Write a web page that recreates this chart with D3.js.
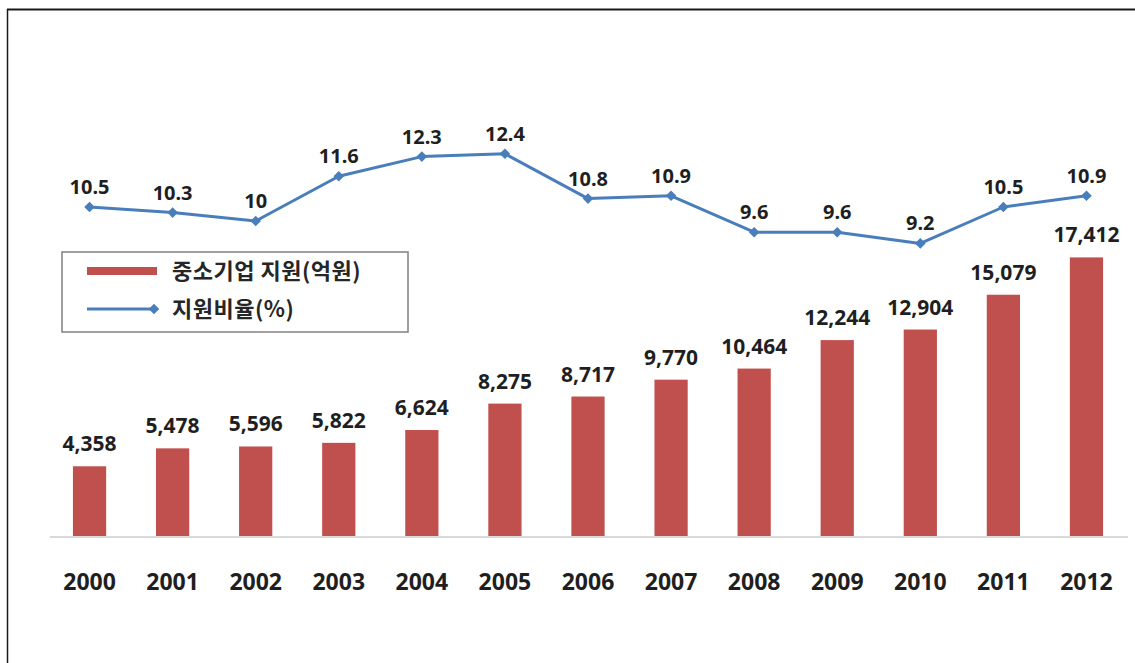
<!DOCTYPE html>
<html>
<head>
<meta charset="utf-8">
<script src="https://cdn.jsdelivr.net/npm/d3@7"></script>
<style>
  body { margin: 0; background: #fff; }
  svg { display: block; }
  .num { font-family: "Noto Sans", "Open Sans", sans-serif; font-weight: 700; fill: #1f1f1f; }
  .leg { font-family: "Noto Sans CJK KR", sans-serif; font-weight: 700; fill: #262626; }
</style>
</head>
<body>
<div id="chart"></div>
<script>
// Years on the x axis
const years = ["2000", "2001", "2002", "2003", "2004", "2005", "2006",
  "2007", "2008", "2009", "2010", "2011", "2012"];
// SME support (100 million won) - bars
const support = [4358, 5478, 5596, 5822, 6624, 8275, 8717, 9770, 10464,
  12244, 12904, 15079, 17412];
// Support ratio (%) - line
const ratio = [10.5, 10.3, 10, 11.6, 12.3, 12.4, 10.8, 10.9, 9.6, 9.6, 9.2, 10.5, 10.9];
const legendLabels = ["중소기업 지원(억원)", "지원비율(%)"];

const width = 1135, height = 663;
const barColor = "#c0504d";
const lineColor = "#4a7ebb";

const svg = d3.select("#chart").append("svg")
  .attr("width", width)
  .attr("height", height);

// Frame (top and left edges only, as in the picture)
svg.append("line").attr("x1", 7).attr("x2", width).attr("y1", 9.5).attr("y2", 9.5)
  .attr("stroke", "#1a1a1a").attr("stroke-width", 2);
svg.append("line").attr("x1", 7.5).attr("x2", 7.5).attr("y1", 9).attr("y2", height)
  .attr("stroke", "#1a1a1a").attr("stroke-width", 1.5);

// Scales
const x = d3.scaleBand().domain(years).range([48, 1128])
  .paddingInner(0.6).paddingOuter(0.3);
const y = d3.scaleLinear().domain([0, 20000]).range([536, 216]);
const yr = d3.scaleLinear().domain([9, 13]).range([249, 137]);

// Bars
svg.selectAll(".bar")
  .data(support)
  .enter()
  .append("rect")
  .attr("class", "bar")
  .attr("x", (d, i) => x(years[i]))
  .attr("width", x.bandwidth())
  .attr("y", (d) => y(d))
  .attr("height", (d) => y(0) - y(d))
  .attr("fill", barColor);

// Baseline
svg.append("line")
  .attr("x1", 50).attr("x2", 1128)
  .attr("y1", y(0) + 1).attr("y2", y(0) + 1)
  .attr("stroke", "#d9d9d9").attr("stroke-width", 2);

// Year labels
const xAxis = d3.axisBottom(x).tickSize(0).tickPadding(0);
const gx = svg.append("g")
  .attr("transform", `translate(0,${y(0)})`)
  .call(xAxis);
gx.select(".domain").remove();
gx.selectAll("text")
  .attr("class", "num")
  .attr("y", 46)
  .attr("dy", "0.35em")
  .style("font-size", "23px");

// Bar value labels
svg.selectAll(".barLabel")
  .data(support)
  .enter()
  .append("text")
  .attr("class", "num")
  .attr("x", (d, i) => x(years[i]) + x.bandwidth() / 2)
  .attr("y", (d) => y(d) - 15)
  .attr("text-anchor", "middle")
  .style("font-size", "21px")
  .text((d) => d3.format(",")(d));

// Ratio line
const cx = (i) => x(years[i]) + x.bandwidth() / 2;
const line = d3.line()
  .x((d, i) => cx(i))
  .y((d) => yr(d));

svg.append("path")
  .datum(ratio)
  .attr("fill", "none")
  .attr("stroke", lineColor)
  .attr("stroke-width", 3)
  .attr("stroke-linejoin", "round")
  .attr("d", line);

// square turned 45deg gives the even diamond marker
const diamond = d3.symbol().type(d3.symbolSquare).size(56);
svg.selectAll(".marker")
  .data(ratio)
  .enter()
  .append("path")
  .attr("class", "marker")
  .attr("d", diamond)
  .attr("transform", (d, i) => `translate(${cx(i)},${yr(d)}) rotate(45)`)
  .attr("fill", lineColor);

svg.selectAll(".ratioLabel")
  .data(ratio)
  .enter()
  .append("text")
  .attr("class", "num")
  .attr("x", (d, i) => cx(i))
  .attr("y", (d) => yr(d) - 13)
  .attr("text-anchor", "middle")
  .style("font-size", "20px")
  .text((d) => d);

// Legend
const legend = svg.append("g").attr("transform", "translate(62,252)");
legend.append("rect")
  .attr("width", 346).attr("height", 80)
  .attr("fill", "#fff")
  .attr("stroke", "#808080").attr("stroke-width", 1.5);

legend.append("line")
  .attr("x1", 25).attr("x2", 95).attr("y1", 19).attr("y2", 19)
  .attr("stroke", barColor).attr("stroke-width", 8);
legend.append("line")
  .attr("x1", 25).attr("x2", 93).attr("y1", 57).attr("y2", 57)
  .attr("stroke", lineColor).attr("stroke-width", 3);
legend.append("path")
  .attr("d", diamond)
  .attr("transform", "translate(92,57) rotate(45)")
  .attr("fill", lineColor);

legend.selectAll(".legText")
  .data(legendLabels)
  .enter()
  .append("text")
  .attr("class", "leg")
  .attr("x", 110)
  .attr("y", (d, i) => 19 + i * 38)
  .attr("dy", "0.35em")
  .style("font-size", "22px")
  .style("letter-spacing", "0.5px")
  .text((d) => d);
</script>
</body>
</html>
